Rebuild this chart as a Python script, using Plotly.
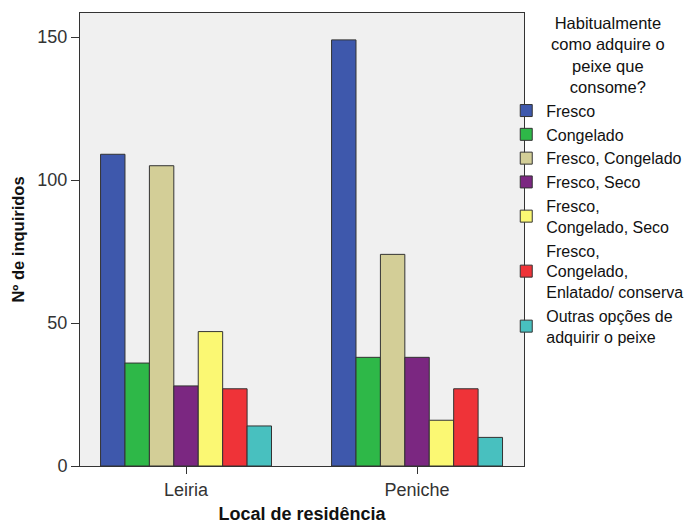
import plotly.graph_objects as go

locais = ['Leiria', 'Peniche']
categorias = ['Fresco', 'Congelado', 'Fresco, Congelado', 'Fresco, Seco',
              'Fresco,<br>Congelado, Seco',
              'Fresco,<br>Congelado,<br>Enlatado/ conserva',
              'Outras opções de<br>adquirir o peixe']
fresco = [109, 149]
congelado = [36, 38]
fresco_congelado = [105, 74]
fresco_seco = [28, 38]
fresco_congelado_seco = [47, 16]
fresco_congelado_enlatado = [27, 27]
outras = [14, 10]

valores = [fresco, congelado, fresco_congelado, fresco_seco,
           fresco_congelado_seco, fresco_congelado_enlatado, outras]
cores = ['#3e58ac', '#2eb848', '#d3ce97', '#7b2781', '#fbf873', '#ef3338', '#48c0bf']

fig = go.Figure()
for nome, v, c in zip(categorias, valores, cores):
    fig.add_trace(go.Bar(
        x=locais, y=v, name=nome,
        marker=dict(color=c, line=dict(color='#333333', width=1))
    ))

fonte = 'Liberation Sans, Arial, sans-serif'

# titulo da legenda como anotação (centrado)
fig.add_annotation(
    text='Habitualmente<br>como adquire o<br>peixe que<br>consome?',
    xref='paper', yref='paper', x=1.19, y=1.003,
    xanchor='center', yanchor='top', align='center',
    showarrow=False, font=dict(size=16.5, color='#111111')
)

# a página tem 8px de margem no body, por isso a figura é um pouco menor
fig.update_layout(
    width=688, height=517,
    barmode='group', bargap=0.26, bargroupgap=0,
    paper_bgcolor='white', plot_bgcolor='#f0f0f0',
    margin=dict(l=72, r=172, t=5, b=59),
    font=dict(family=fonte, size=18, color='#333333'),
    showlegend=True,
    legend=dict(
        x=0.96, y=0.822, xanchor='left', yanchor='top',
        font=dict(size=16, color='#111111'), tracegroupgap=0, itemwidth=30,
        bgcolor='rgba(0,0,0,0)'
    ),
    xaxis=dict(
        range=[-0.459, 1.463], showline=True, linecolor='#333333', mirror=True,
        ticks='outside', ticklen=7, tickcolor='#333333',
        title=dict(text='<b>Local de residência</b>', standoff=8,
                   font=dict(size=18, color='#111111'))
    ),
    yaxis=dict(
        range=[0, 158.4], tickvals=[0, 50, 100, 150], showgrid=False, zeroline=False,
        showline=True, linecolor='#333333', mirror=True,
        ticks='outside', ticklen=8, tickcolor='#333333',
        title=dict(text='<b>Nº de inquiridos</b>', standoff=8,
                   font=dict(size=16.5, color='#111111'))
    ),
)

fig.write_html('out.html')
